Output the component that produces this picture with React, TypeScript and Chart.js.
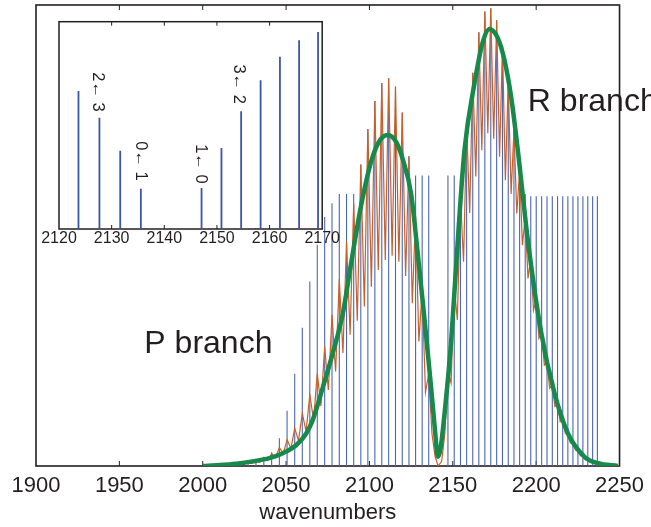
import React, { useEffect, useRef } from 'react';
import { Chart, registerables } from 'chart.js';
Chart.register(...registerables);

const FONT = '"Liberation Sans", Arial, Helvetica, sans-serif';
const INK = '#231f20';

// rotational line positions (cm^-1) and stick heights
const stickPos = [
  2012.70, 2017.55, 2022.38, 2027.17, 2031.93, 2036.65, 2041.33, 2045.98, 2050.60, 2055.17,
  2059.72, 2064.23, 2068.71, 2073.15, 2077.55, 2081.92, 2086.26, 2090.55, 2094.82, 2099.05,
  2103.25, 2107.40, 2111.53, 2115.62, 2119.68, 2123.70, 2127.68, 2131.63, 2135.55,
  2147.08, 2150.86, 2154.60, 2158.30, 2161.97, 2165.61, 2169.21, 2172.77, 2176.30, 2179.80,
  2183.26, 2186.68, 2190.07, 2193.43, 2196.75, 2200.03, 2203.28, 2206.50, 2209.68, 2212.82,
  2215.93, 2219.01, 2222.05, 2225.05, 2228.02, 2230.96, 2233.86, 2236.72, 2239.55, 2242.35,
];
const stickHeight = [
  0.002, 0.004, 0.006, 0.010, 0.015, 0.020, 0.030, 0.060, 0.120, 0.200,
  0.300, 0.400, 0.480, 0.540, 0.570, 0.590, 0.590, 0.590, 0.654, 0.731,
  0.792, 0.831, 0.841, 0.823, 0.767, 0.672, 0.630, 0.630, 0.630,
  0.630, 0.630, 0.630, 0.737, 0.853, 0.941, 0.986, 0.993, 0.967, 0.912,
  0.834, 0.729, 0.640, 0.590, 0.585, 0.585, 0.585, 0.585, 0.585, 0.585,
  0.585, 0.585, 0.585, 0.585, 0.585, 0.585, 0.585, 0.585, 0.004, 0.002,
];

// inset: lines nearest the band centre (heights as fraction of inset height)
const insetPos = [2123.70, 2127.68, 2131.63, 2135.55, 2147.08, 2150.86, 2154.60, 2158.30, 2161.97, 2165.61, 2169.21];
const insetHeight = [0.666, 0.537, 0.378, 0.194, 0.198, 0.391, 0.568, 0.717, 0.831, 0.910, 0.950];

// moderate-resolution trace (orange): [wavenumber, intensity]
const mediumRes = [
  [2000, 0], [2008, 0.001], [2012.7, 0.002], [2015.1, 0.001], [2017.55, 0.003], [2020.0, 0.002],
  [2022.38, 0.005], [2024.8, 0.003], [2027.17, 0.008], [2029.55, 0.005], [2031.93, 0.012],
  [2034.3, 0.008], [2036.65, 0.018], [2039.0, 0.012], [2041.33, 0.027], [2043.65, 0.018],
  [2045.98, 0.04], [2048.3, 0.027], [2050.6, 0.057], [2052.9, 0.038], [2055.17, 0.082],
  [2057.45, 0.055], [2059.72, 0.114], [2062.0, 0.075], [2064.23, 0.154], [2066.5, 0.1],
  [2068.71, 0.201], [2070.9, 0.13], [2073.15, 0.259], [2075.35, 0.165], [2077.55, 0.328],
  [2079.7, 0.205], [2081.92, 0.405], [2084.1, 0.245], [2086.26, 0.487], [2088.4, 0.285],
  [2090.55, 0.57], [2092.7, 0.315], [2094.82, 0.654], [2096.94, 0.346], [2099.05, 0.731],
  [2101.15, 0.389], [2103.25, 0.792], [2105.3, 0.425], [2107.4, 0.831], [2109.5, 0.447],
  [2111.53, 0.841], [2113.6, 0.456], [2115.62, 0.823], [2117.65, 0.443], [2119.68, 0.767],
  [2121.7, 0.412], [2123.7, 0.672], [2125.7, 0.353], [2127.68, 0.544], [2129.65, 0.27],
  [2131.63, 0.38], [2133.6, 0.16], [2135.55, 0.2], [2137.5, 0.07], [2139.4, 0.02],
  [2141.2, 0.0], [2143.3, 0.01], [2145.2, 0.07], [2147.08, 0.205], [2148.97, 0.18],
  [2150.86, 0.39], [2152.73, 0.317], [2154.6, 0.581], [2156.45, 0.443], [2158.3, 0.737],
  [2160.13, 0.549], [2161.97, 0.853], [2163.8, 0.628], [2165.61, 0.941], [2167.4, 0.685],
  [2169.21, 0.986], [2171.0, 0.722], [2172.77, 0.993], [2174.53, 0.71], [2176.3, 0.967],
  [2178.05, 0.671], [2179.8, 0.912], [2181.53, 0.62], [2183.26, 0.834], [2184.97, 0.59],
  [2186.68, 0.729], [2188.38, 0.548], [2190.07, 0.64], [2191.75, 0.479], [2193.43, 0.54],
  [2195.1, 0.407], [2196.75, 0.45], [2198.4, 0.338], [2200.03, 0.36], [2201.65, 0.277],
  [2203.28, 0.29], [2204.9, 0.219], [2206.5, 0.225], [2208.1, 0.169], [2209.68, 0.175],
  [2211.25, 0.129], [2212.82, 0.135], [2214.4, 0.096], [2215.93, 0.102], [2217.5, 0.071],
  [2219.01, 0.075], [2220.5, 0.05], [2222.05, 0.055], [2223.55, 0.035], [2225.05, 0.04],
  [2226.5, 0.022], [2228.02, 0.026], [2229.5, 0.014], [2230.96, 0.017], [2232.4, 0.008],
  [2233.86, 0.011], [2235.3, 0.005], [2236.72, 0.007], [2238.1, 0.003], [2239.55, 0.004],
  [2241, 0.002], [2242.35, 0.002], [2246, 0.001], [2250, 0],
];

// low-resolution envelope (green): [wavenumber, intensity]
const lowRes = [
  [2000, 0], [2010, 0.002], [2020, 0.005], [2030, 0.01], [2040, 0.017], [2047, 0.026],
  [2056, 0.045], [2062, 0.07], [2066, 0.1], [2072, 0.17], [2078, 0.245], [2084, 0.33],
  [2089, 0.44], [2095, 0.565], [2101, 0.66], [2106, 0.705], [2111, 0.718], [2116, 0.703],
  [2120, 0.665], [2125, 0.59], [2129, 0.46], [2133, 0.32], [2137, 0.17], [2139.5, 0.07],
  [2141, 0.02], [2142.5, 0.035], [2145.5, 0.13], [2149, 0.27], [2153, 0.49], [2157, 0.685],
  [2163, 0.83], [2168, 0.92], [2172, 0.948], [2177, 0.928], [2181, 0.88], [2185, 0.8],
  [2189, 0.685], [2195, 0.49], [2203, 0.29], [2211, 0.158], [2219, 0.071], [2229, 0.02],
  [2237, 0.006], [2249, 0],
];

const branchText = ['P branch', 'R branch'];
const branchX = [1965, 2195];
const branchY = [0.245, 0.771];

const insetText = ['2\u2190 3', '0\u2190 1', '1\u2190 0', '3\u2190 2'];
const insetLabelX = [2127.4, 2135.4, 2146.9, 2154.1];
const insetLabelY = [0.661, 0.328, 0.314, 0.699];

const INSET_MIN = 2120;
const INSET_MAX = 2170;

function framePlugin(tickLen: number, lw: number, fillWhite: boolean) {
  return {
    id: 'frame',
    beforeDatasetsDraw(chart: any) {
      const { ctx, chartArea: a } = chart;
      const xs = chart.scales.x;
      ctx.save();
      if (fillWhite) {
        ctx.fillStyle = '#fff';
        ctx.fillRect(a.left, a.top, a.right - a.left, a.bottom - a.top);
      }
      ctx.strokeStyle = INK;
      ctx.lineWidth = 1;
      xs.ticks.forEach((t: any) => {
        const px = xs.getPixelForValue(t.value);
        if (px <= a.left + 1 || px >= a.right - 1) return;
        ctx.beginPath();
        ctx.moveTo(px, a.bottom);
        ctx.lineTo(px, a.bottom - tickLen);
        ctx.moveTo(px, a.top);
        ctx.lineTo(px, a.top + tickLen);
        ctx.stroke();
      });
      ctx.lineWidth = lw;
      ctx.strokeRect(a.left, a.top, a.right - a.left, a.bottom - a.top);
      ctx.restore();
    },
  };
}

const branchPlugin = {
  id: 'branchText',
  afterDatasetsDraw(chart: any) {
    const { ctx } = chart;
    const xs = chart.scales.x;
    const ys = chart.scales.y;
    ctx.save();
    ctx.fillStyle = INK;
    ctx.font = `32px ${FONT}`;
    ctx.textAlign = 'left';
    ctx.textBaseline = 'alphabetic';
    branchText.forEach((t, i) => {
      ctx.fillText(t, xs.getPixelForValue(branchX[i]), ys.getPixelForValue(branchY[i]));
    });
    ctx.restore();
  },
};

const insetTextPlugin = {
  id: 'insetText',
  afterDatasetsDraw(chart: any) {
    const { ctx } = chart;
    const xs = chart.scales.x;
    const ys = chart.scales.y;
    ctx.save();
    ctx.fillStyle = INK;
    ctx.font = `16.5px ${FONT}`;
    ctx.textAlign = 'center';
    ctx.textBaseline = 'middle';
    insetText.forEach((t, i) => {
      ctx.save();
      ctx.translate(xs.getPixelForValue(insetLabelX[i]), ys.getPixelForValue(insetLabelY[i]));
      ctx.rotate(Math.PI / 2);
      ctx.fillText(t, 0, 0);
      ctx.restore();
    });
    ctx.restore();
  },
};

export default function App() {
  const mainRef = useRef<HTMLCanvasElement | null>(null);
  const insetRef = useRef<HTMLCanvasElement | null>(null);

  useEffect(() => {
    const sticks = stickPos.map((x, i) => ({ x, y: stickHeight[i] }));
    const main = new Chart(mainRef.current as HTMLCanvasElement, {
      type: 'line',
      data: {
        datasets: [
          {
            type: 'line',
            label: 'low resolution',
            data: lowRes.map(([x, y]) => ({ x, y })),
            borderColor: '#17894b',
            borderWidth: 4.5,
            pointRadius: 0,
            cubicInterpolationMode: 'monotone',
            order: 0,
          } as any,
          {
            type: 'line',
            label: 'moderate resolution',
            data: mediumRes.map(([x, y]) => ({ x, y })),
            borderColor: '#c8602c',
            borderWidth: 1.2,
            pointRadius: 0,
            tension: 0,
            order: 1,
          } as any,
          {
            type: 'bar',
            label: 'lines',
            data: sticks,
            backgroundColor: '#4d66b0',
            barThickness: 1.1,
            inflateAmount: 0,
            order: 2,
          } as any,
        ],
      },
      options: {
        responsive: false,
        animation: false,
        devicePixelRatio: 1,
        layout: { padding: { left: 36, right: 29, top: 5, bottom: 0 } },
        plugins: { legend: { display: false }, tooltip: { enabled: false } },
        scales: {
          x: {
            type: 'linear',
            min: 1900,
            max: 2250,
            offset: false,
            ticks: {
              stepSize: 50,
              autoSkip: false,
              maxRotation: 0,
              padding: 7,
              color: INK,
              font: { size: 22, family: FONT },
              callback: (v: any) => String(v),
            },
            grid: { display: false, drawTicks: false, offset: false },
            border: { display: false },
            title: {
              display: true,
              text: 'wavenumbers',
              color: INK,
              font: { size: 22, family: FONT },
              padding: { top: 0, bottom: 1 },
            },
            afterFit: (s: any) => { s.height = 61; },
          },
          y: { type: 'linear', min: 0, max: 1, display: false },
        },
      } as any,
      plugins: [framePlugin(5, 1.6, false), branchPlugin],
    });

    const inset = new Chart(insetRef.current as HTMLCanvasElement, {
      type: 'bar',
      data: {
        datasets: [
          {
            label: 'lines',
            data: insetPos.map((x, i) => ({ x, y: insetHeight[i] })),
            backgroundColor: '#3b55a8',
            barThickness: 1.8,
            inflateAmount: 0,
          } as any,
        ],
      },
      options: {
        responsive: false,
        animation: false,
        devicePixelRatio: 1,
        layout: { padding: { left: 19, right: 17.3, top: 9.7, bottom: 0 } },
        plugins: { legend: { display: false }, tooltip: { enabled: false } },
        scales: {
          x: {
            type: 'linear',
            min: INSET_MIN,
            max: INSET_MAX,
            offset: false,
            ticks: {
              stepSize: 10,
              autoSkip: false,
              maxRotation: 0,
              padding: 0,
              color: INK,
              font: { size: 16, family: FONT },
              callback: (v: any) => String(v),
            },
            grid: { display: false, drawTicks: false, offset: false },
            border: { display: false },
            afterFit: (s: any) => { s.height = 28; },
          },
          y: { type: 'linear', min: 0, max: 1, display: false },
        },
      } as any,
      plugins: [framePlugin(4, 1.5, true), insetTextPlugin],
    });

    return () => {
      main.destroy();
      inset.destroy();
    };
  }, []);

  return (
    <div style={{ position: 'absolute', left: 0, top: 0, width: 651, height: 527, background: '#fff', overflow: 'hidden' }}>
      <canvas ref={mainRef} width={651} height={527} style={{ position: 'absolute', left: 0, top: 0 }} />
      <canvas ref={insetRef} width={300} height={245} style={{ position: 'absolute', left: 40, top: 12 }} />
    </div>
  );
}
